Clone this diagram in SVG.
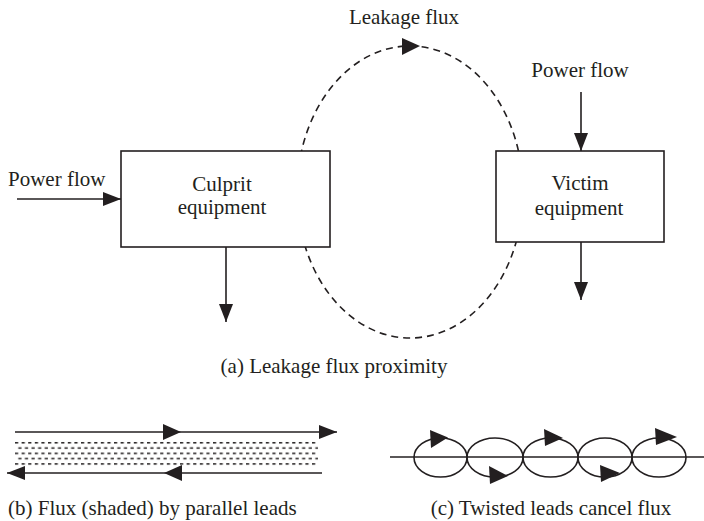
<svg xmlns="http://www.w3.org/2000/svg" width="704" height="521" viewBox="0 0 704 521">
<defs>
<style>
text{font-family:"Liberation Serif","Times New Roman",serif;font-size:21px;fill:#231f20}
.box{fill:#fff;stroke:#231f20;stroke-width:1.6}
.ln{fill:none;stroke:#231f20;stroke-width:1.6}
.dash{fill:none;stroke:#231f20;stroke-width:1.6;stroke-dasharray:7 5}
.ah{fill:#231f20;stroke:none}
</style>
<marker id="arr" viewBox="0 0 18 14" refX="18" refY="7" markerWidth="18" markerHeight="14" markerUnits="userSpaceOnUse" orient="auto">
<path d="M0,0 L18,7 L0,14 Z" fill="#231f20"/>
</marker>
<pattern id="dots" x="15" y="441" width="6.6" height="10.6" patternUnits="userSpaceOnUse">
<rect x="0" y="1" width="3.2" height="1.5" fill="#231f20"/>
<rect x="3.3" y="6.3" width="3.2" height="1.5" fill="#231f20"/>
</pattern>
</defs>

<g id="leakage-loop">
<ellipse class="dash" cx="410" cy="192" rx="113" ry="146"/>
<path class="ah" d="M402,38 L420,46 L402,55 Z"/>
<text x="404" y="24" text-anchor="middle">Leakage flux</text>
</g>

<g id="culprit">
<rect class="box" x="121" y="151" width="209" height="96"/>
<text x="222" y="191" text-anchor="middle">Culprit</text>
<text x="222" y="214" text-anchor="middle">equipment</text>
</g>

<g id="victim">
<rect class="box" x="496" y="151" width="168" height="91"/>
<text x="580" y="190" text-anchor="middle">Victim</text>
<text x="579" y="215" text-anchor="middle">equipment</text>
</g>

<g id="power-left">
<text x="8" y="186">Power flow</text>
</g>
<g id="power-right">
<text x="580" y="77" text-anchor="middle">Power flow</text>
</g>

<g id="connectors">
<line class="ln" x1="17" y1="199" x2="121" y2="199" marker-end="url(#arr)"/>
<line class="ln" x1="581" y1="92" x2="581" y2="151" marker-end="url(#arr)"/>
<line class="ln" x1="226" y1="247" x2="226" y2="322" marker-end="url(#arr)"/>
<line class="ln" x1="581" y1="242" x2="581" y2="300" marker-end="url(#arr)"/>
</g>

<text x="334" y="373" text-anchor="middle">(a) Leakage flux proximity</text>

<g id="parallel-leads">
<rect x="15" y="441" width="303" height="26" fill="url(#dots)"/>
<line class="ln" x1="15" y1="432" x2="337" y2="432" marker-end="url(#arr)"/>
<path class="ah" d="M163,424 L181,432 L163,440 Z"/>
<line class="ln" x1="322" y1="473" x2="7" y2="473" marker-end="url(#arr)"/>
<path class="ah" d="M182,465 L164,473 L182,481 Z"/>
</g>
<text x="8" y="515">(b) Flux (shaded) by parallel leads</text>

<g id="twisted-leads">
<line class="ln" x1="390" y1="457" x2="704" y2="457"/>
<ellipse class="ln" cx="440.5" cy="457.5" rx="26.5" ry="19.5"/>
<ellipse class="ln" cx="495" cy="457.5" rx="28" ry="19.5"/>
<ellipse class="ln" cx="550.5" cy="457.5" rx="27.5" ry="19.5"/>
<ellipse class="ln" cx="605" cy="457.5" rx="27" ry="19.5"/>
<ellipse class="ln" cx="659" cy="457.5" rx="27" ry="19.5"/>
<path class="ah" d="M430,430 L431,448 L448,437.5 Z"/>
<path class="ah" d="M544,429 L545,446 L563,438 Z"/>
<path class="ah" d="M655,428 L656,445 L677,437 Z"/>
<path class="ah" d="M489,466 L490,484 L508,476 Z"/>
<path class="ah" d="M600,465 L601,482 L620,473 Z"/>
</g>
<text x="551" y="515" text-anchor="middle">(c) Twisted leads cancel flux</text>
</svg>
